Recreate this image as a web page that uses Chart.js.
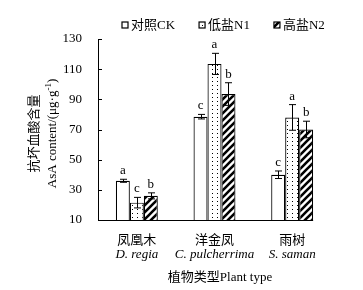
<!DOCTYPE html>
<html>
<head>
<meta charset="utf-8">
<script src="https://cdn.jsdelivr.net/npm/chart.js@4/dist/chart.umd.min.js"></script>
<style>
  html, body { margin: 0; padding: 0; background: #fff; }
  #wrap { width: 363px; height: 290px; }
</style>
</head>
<body>
<div id="wrap"><canvas id="ascanvas" width="363" height="290"></canvas></div>
<script>
// data
const categories = ['凤凰木', '洋金凤', '雨树'];
const latinNames = ['D. regia', 'C. pulcherrima', 'S. saman'];
const seriesNames = ['对照CK', '低盐N1', '高盐N2'];
const ckValues = [36, 78.5, 40];
const n1Values = [21.5, 113.5, 78];
const n2Values = [26, 93.5, 70];
const ckErrors = [1, 1.5, 2.5];
const n1Errors = [3.5, 7, 8.5];
const n2Errors = [2, 7.5, 5.5];
const ckLetters = ['a', 'c', 'c'];
const n1Letters = ['c', 'a', 'a'];
const n2Letters = ['b', 'b', 'b'];
const yTicks = [10, 30, 50, 70, 90, 110, 130];

const serif = '"Liberation Serif", "Noto Sans CJK SC", serif';

function makeDots() {
    let c = document.createElement('canvas');
    c.width = 5; c.height = 4;
    let g = c.getContext('2d');
    g.fillStyle = '#fff';
    g.fillRect(0, 0, 5, 4);
    g.fillStyle = '#000';
    g.fillRect(2, 1, 1, 1);
    return g.createPattern(c, 'repeat');
}

function makeHatch() {
    let s = 7;
    let c = document.createElement('canvas');
    c.width = s; c.height = s;
    let g = c.getContext('2d');
    g.fillStyle = '#fff';
    g.fillRect(0, 0, s, s);
    g.strokeStyle = '#000';
    g.lineWidth = 2.6;
    g.beginPath();
    g.moveTo(-1, s + 1); g.lineTo(s + 1, -1);
    g.moveTo(-1, 1); g.lineTo(1, -1);
    g.moveTo(s - 1, s + 1); g.lineTo(s + 1, s - 1);
    g.stroke();
    return g.createPattern(c, 'repeat');
}

const fills = ['#ffffff', makeDots(), makeHatch()];
const errors = [ckErrors, n1Errors, n2Errors];
const letters = [ckLetters, n1Letters, n2Letters];

const extras = {
    id: 'extras',
    afterDatasetsDraw(chart) {
        let ctx = chart.ctx;
        let y = chart.scales.y;
        let x = chart.scales.x;
        let area = chart.chartArea;
        ctx.save();
        ctx.strokeStyle = '#000';
        ctx.fillStyle = '#000';
        ctx.lineWidth = 1;

        // inward tick marks on the y axis
        yTicks.forEach(function(t) {
            let py = Math.round(y.getPixelForValue(t)) + 0.5;
            ctx.beginPath();
            ctx.moveTo(area.left, py);
            ctx.lineTo(area.left + 4, py);
            ctx.stroke();
        });

        // x axis line up to the last bar
        let lastMeta = chart.getDatasetMeta(2);
        let lastBar = lastMeta.data[lastMeta.data.length - 1];
        let by = Math.round(area.bottom) + 0.5;
        ctx.beginPath();
        ctx.moveTo(area.left, by);
        ctx.lineTo(lastBar.x + lastBar.width / 2, by);
        ctx.stroke();

        // error bars and letters
        ctx.font = '13px ' + serif;
        ctx.textAlign = 'center';
        ctx.textBaseline = 'alphabetic';
        chart.data.datasets.forEach(function(ds, i) {
            let meta = chart.getDatasetMeta(i);
            meta.data.forEach(function(bar, j) {
                let v = ds.data[j];
                let e = errors[i][j];
                let top = y.getPixelForValue(v + e);
                let bot = y.getPixelForValue(v - e);
                let bx = Math.round(bar.x) + 0.5;
                ctx.beginPath();
                ctx.moveTo(bx, top);
                ctx.lineTo(bx, bot);
                ctx.moveTo(bx - 3.5, top);
                ctx.lineTo(bx + 3.5, top);
                ctx.moveTo(bx - 3.5, bot);
                ctx.lineTo(bx + 3.5, bot);
                ctx.stroke();
                ctx.fillText(letters[i][j], bar.x, top - 5);
            });
        });

        // category labels
        categories.forEach(function(name, j) {
            let px = x.getPixelForValue(j);
            ctx.font = '13px ' + serif;
            ctx.fillText(name, px, 244);
            ctx.font = 'italic 13px ' + serif;
            ctx.fillText(latinNames[j], px, 258);
        });

        // x title
        ctx.font = '13px ' + serif;
        ctx.fillText('植物类型Plant type', 220, 281);

        // y title, two rotated lines
        let cy = (area.top + area.bottom) / 2 + 4;
        ctx.save();
        ctx.translate(35, cy);
        ctx.rotate(-Math.PI / 2);
        ctx.textBaseline = 'middle';
        ctx.font = '13px ' + serif;
        ctx.fillText('抗坏血酸含量', 0, 0);
        ctx.restore();

        ctx.save();
        ctx.translate(53, cy);
        ctx.rotate(-Math.PI / 2);
        ctx.textBaseline = 'middle';
        ctx.textAlign = 'left';
        let mainText = 'AsA content/(μg·g';
        ctx.font = '13px ' + serif;
        let w1 = ctx.measureText(mainText).width;
        ctx.font = '9px ' + serif;
        let w2 = ctx.measureText('-1').width;
        ctx.font = '13px ' + serif;
        let w3 = ctx.measureText(')').width;
        let sx = -(w1 + w2 + w3) / 2;
        ctx.fillText(mainText, sx, 0);
        ctx.font = '9px ' + serif;
        ctx.fillText('-1', sx + w1, -4);
        ctx.font = '13px ' + serif;
        ctx.fillText(')', sx + w1 + w2, 0);
        ctx.restore();

        // legend
        let lx = 122;
        let ly = 25;
        ctx.font = '13px ' + serif;
        ctx.textAlign = 'left';
        ctx.textBaseline = 'middle';
        seriesNames.forEach(function(name, i) {
            ctx.fillStyle = fills[i];
            ctx.fillRect(lx, ly - 3, 6, 6);
            ctx.strokeStyle = '#000';
            ctx.lineWidth = 1.2;
            ctx.strokeRect(lx, ly - 3, 6, 6);
            ctx.fillStyle = '#000';
            ctx.fillText(name, lx + 9, ly + 1);
            lx += 9 + ctx.measureText(name).width + 24;
        });
        ctx.restore();
    }
};

function createAsaChart() {
    let canvas = document.getElementById('ascanvas').getContext('2d');
    let chart = new Chart(canvas, {
        type: 'bar',
        data: {
            labels: categories,
            datasets: [
                { label: seriesNames[0], data: ckValues, backgroundColor: fills[0] },
                { label: seriesNames[1], data: n1Values, backgroundColor: fills[1] },
                { label: seriesNames[2], data: n2Values, backgroundColor: fills[2] }
            ]
        },
        options: {
            responsive: false,
            animation: false,
            devicePixelRatio: 1,
            layout: { padding: { top: 39, right: 32, bottom: 0, left: 0 } },
            datasets: {
                bar: {
                    borderColor: '#000',
                    borderWidth: 1.2,
                    borderSkipped: 'start',
                    barPercentage: 1,
                    categoryPercentage: 0.54
                }
            },
            plugins: {
                legend: { display: false },
                tooltip: { enabled: false }
            },
            scales: {
                x: {
                    ticks: { display: false },
                    grid: { display: false },
                    border: { display: false },
                    afterFit: function(scale) { scale.height = 70; }
                },
                y: {
                    min: 10,
                    max: 130,
                    afterBuildTicks: function(scale) {
                        scale.ticks = yTicks.map(function(v) { return { value: v }; });
                    },
                    ticks: {
                        color: '#000',
                        padding: 8,
                        font: { family: serif, size: 13 }
                    },
                    grid: { display: false },
                    border: { display: true, color: '#000', width: 1 },
                    afterFit: function(scale) { scale.width = 98; }
                }
            }
        },
        plugins: [extras]
    });
    return chart;
}

createAsaChart();
</script>
</body>
</html>
